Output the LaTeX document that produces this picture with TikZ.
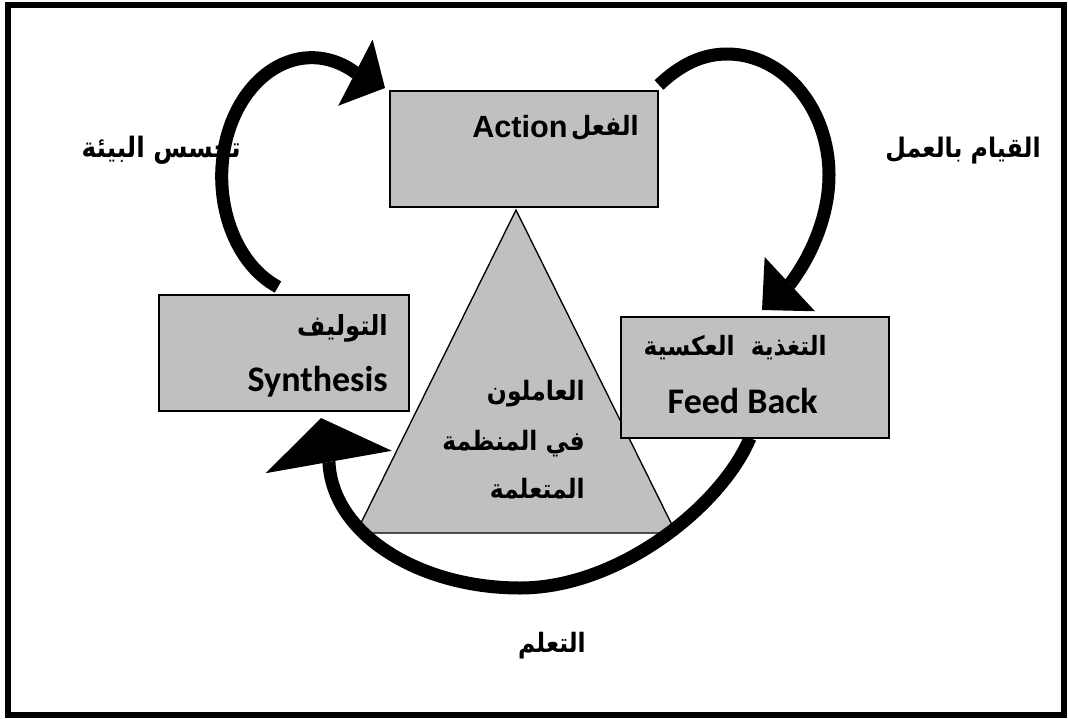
\documentclass[tikz,border=0pt]{standalone}
\usepackage{fontspec}
\setmainfont{Liberation Sans}
\newfontfamily\arabicfont[Script=Arabic, FakeStretch=0.88]{DejaVu Sans}
\newfontfamily\calfont{Carlito}
\newfontfamily\arialfont{Liberation Sans}
\TeXXeTstate=1
\usetikzlibrary{arrows.meta,calc}
\definecolor{boxgray}{HTML}{C0C0C0}
\pgfdeclarelayer{back}
\pgfsetlayers{back,main}

\begin{document}
\begin{tikzpicture}[x=0.75pt,y=-0.75pt,
  panel/.style={draw=black, line width=1.5pt, fill=boxgray, inner sep=0pt, outer sep=0pt},
  tri/.style={draw=black, line width=1pt, fill=boxgray, line join=miter},
  cycleline/.style={line width=9.75pt, line cap=butt},
  ar/.style={font=\arabicfont\bfseries\fontsize{#1}{1.2\dimexpr#1pt}\selectfont, inner sep=0pt},
  ar/.default=20,
  lat/.style={font=\calfont\bfseries\fontsize{27}{32}\selectfont, inner sep=0pt},
  act/.style={font=\arialfont\bfseries\fontsize{23}{27}\selectfont, inner sep=0pt},
]
\useasboundingbox (0,0) rectangle (1068,718);

% outer frame
\draw[line width=5pt] (8,5) rectangle (1064,715);

% the three stages
\node[panel, minimum width=201pt, minimum height=87pt] (action) at (524,149) {};
\node[panel, minimum width=187.5pt, minimum height=87pt] (synth) at (284,353) {};
\node[panel, minimum width=201pt, minimum height=90.75pt] (fb) at (755,377.5) {};

% anchor points of the cycle arrows
\coordinate (s1) at ($(synth.north)+(-6,-8)$);
\coordinate (t1) at ($(action.north west)+(-5,-3)$);
\coordinate (s2) at ($(action.north east)+(1,-6)$);
\coordinate (t2) at ($(fb.north)+(7,-7)$);
\coordinate (s3) at ($(fb.south)+(-5,0)$);
\coordinate (t3) at ($(synth.south)+(37,7)$);

% triangle corners
\coordinate (apex) at (516,210);
\coordinate (bl) at (356,533);
\coordinate (br) at (676,533);

\begin{pgfonlayer}{back}
  \draw[tri] (apex) -- (bl) -- (br) -- cycle;
  % synthesis -> action
  \draw[cycleline, -{Triangle[length=25pt, width=56pt, line width=0pt]}]
    (s1) arc[start angle=112, end angle=299, x radius=90, y radius=119] -- (t1);
  % action -> feed back
  \draw[cycleline, -{Triangle[length=28.5pt, width=55.5pt, line width=0pt]}]
    (s2) .. controls (680,65) and (702,54) .. (727,54)
         .. controls (785,54) and (829,110) .. (829,175)
         .. controls (829,215) and (812,255) .. (790,284) -- (t2);
  % feed back -> synthesis
  \draw[cycleline, -{Triangle[length=33.5pt, width=96pt, line width=0pt]}]
    (s3) .. controls (722,505) and (620,588) .. (520,588)
         .. controls (420,588) and (333,535) .. (329,463) -- (t3);
\end{pgfonlayer}

% box texts
\node[act, anchor=base west] (actlat) at (472,137) {Action};
\node[ar=19.9, anchor=base east] (actar) at (639,135) {\beginR الفعل\endR};
\node[ar=20.7, anchor=base east] (synar) at (388,335) {\beginR التوليف\endR};
\node[lat, anchor=base east] (synlat) at (388,391) {Synthesis};
\node[ar=19.9, anchor=base east] (fbar) at (827,355) {\beginR التغذية\ \ العكسية\endR};
\node[lat, anchor=base east] (fblat) at (818,413) {Feed Back};

% triangle text
\node[ar=20, anchor=base east] (w1) at (585,400) {\beginR العاملون\endR};
\node[ar=20, anchor=base east] (w2) at (585,450) {\beginR في المنظمة\endR};
\node[ar=20, anchor=base east] (w3) at (585,498) {\beginR المتعلمة\endR};

% arrow labels
\node[ar=21.1, anchor=base east] (l1) at (241,157) {\beginR تحسس البيئة\endR};
\node[ar=20.2, anchor=base east] (l2) at (1041,157) {\beginR القيام بالعمل\endR};
\node[ar=20, anchor=base east] (l3) at (586,652) {\beginR التعلم\endR};
\end{tikzpicture}
\end{document}
